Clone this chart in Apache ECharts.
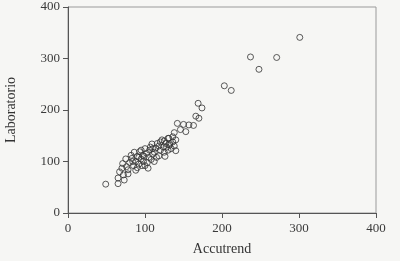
<!DOCTYPE html>
<html><head><meta charset="utf-8">
<script src="https://cdn.jsdelivr.net/npm/echarts@6/dist/echarts.min.js"></script>
<style>html,body{margin:0;padding:0;background:#f6f6f4}#c{width:400px;height:261px}</style>
</head><body><div id="c"></div>
<script>
const accutrend = [301,237,271,248,203,212,169,174,166,170,163,157,150,142,146,153,138,136,131,140,132,125,122,
49,65,65,67,70,72,71,76,78,80,83,85,88,88,90,92,93,95,97,98,100,102,104,105,106,108,109,110,112,114,115,118,118,120,124,125,127,130,130,132,134,136,138,140,75,82,86,90,95,100,103,107,112,116,120,126,128,78,73,84,92,96,99,110];
const laboratorio = [341,303,302,279,247,238,213,204,188,184,170,171,172,174,162,158,156,148,145,121,135,140,142,
56,57,68,80,87,74,96,90,76,98,106,92,83,100,110,95,119,105,112,100,92,116,87,108,122,104,134,114,118,126,108,111,130,122,128,118,135,145,122,132,125,138,130,142,105,112,118,88,122,125,98,128,100,135,138,110,128,84,64,100,108,92,110,125];
const xTicks = [0,100,200,300,400];
const yTicks = [0,100,200,300,400];
const points = accutrend.map((x,i)=>[x,laboratorio[i]]);
const chart = echarts.init(document.getElementById('c'));
const font = '"Liberation Serif","DejaVu Serif",serif';
chart.setOption({
  animation:false,
  backgroundColor:'#f6f6f4',
  grid:{left:68,right:24,top:7,bottom:48,show:true,borderColor:'#9a9a9a',borderWidth:1,backgroundColor:'transparent',outerBoundsMode:'none',containLabel:false},
  xAxis:{type:'value',min:xTicks[0],max:xTicks[xTicks.length-1],interval:100,
    name:'Accutrend',nameLocation:'middle',nameGap:29,
    nameTextStyle:{fontFamily:font,fontSize:14,color:'#333'},
    axisLine:{show:true,onZero:false,lineStyle:{color:'#555',width:1}},
    axisTick:{show:true,inside:false,length:5,lineStyle:{color:'#555'}},
    axisLabel:{fontFamily:font,fontSize:13,color:'#3a3a3a',margin:9},
    splitLine:{show:false}},
  yAxis:{type:'value',min:yTicks[0],max:yTicks[yTicks.length-1],interval:100,
    name:'Laboratorio',nameLocation:'middle',nameGap:50,nameRotate:90,
    nameTextStyle:{fontFamily:font,fontSize:14,color:'#333'},
    axisLine:{show:true,onZero:false,lineStyle:{color:'#555',width:1}},
    axisTick:{show:true,inside:false,length:5,lineStyle:{color:'#555'}},
    axisLabel:{fontFamily:font,fontSize:13,color:'#3a3a3a',margin:8},
    splitLine:{show:false}},
  series:[{type:'scatter',data:points,symbol:'circle',symbolSize:6,
    itemStyle:{color:'rgba(255,255,255,0)',borderColor:'#333',borderWidth:1}}]
});
</script></body></html>
